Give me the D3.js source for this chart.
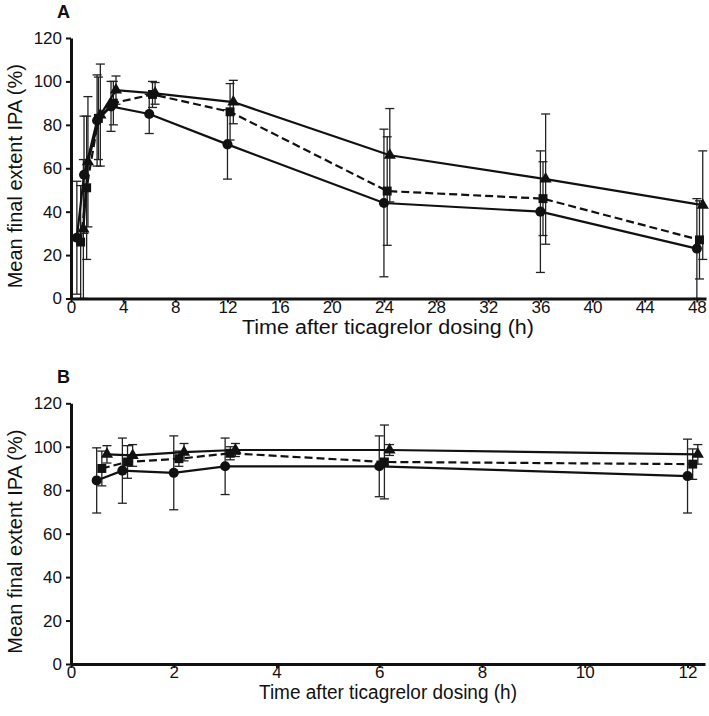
<!DOCTYPE html>
<html>
<head>
<meta charset="utf-8">
<script src="https://d3js.org/d3.v7.min.js"></script>
<style>
body { margin: 0; background: #fff; }
svg text { font-family: "Liberation Sans", Arial, sans-serif; fill: #111; }
.axis-title { font-size: 20px; }
.panel-label { font-size: 18px; font-weight: bold; }
</style>
</head>
<body>
<svg id="chart" width="709" height="716"></svg>
<script>
// Panel A: 0-48 h
var aCircleTime = [0.45, 1.0, 2.0, 3.07, 6.0, 12.0, 24.0, 36.0, 48.0];
var aCircleMean = [28, 57, 82, 88.5, 85, 71, 44, 40, 23];
var aCircleSd   = [26, 27, 21, 11.5, 9, 16, 34, 28, 23];

var aSquareTime = [0.74, 1.2, 2.1, 3.25, 6.25, 12.2, 24.25, 36.2, 48.2];
var aSquareMean = [26, 51, 83, 90, 94, 86, 49.5, 46, 27];
var aSquareSd   = [26, 33, 19, 10, 6, 13, 25, 17, 18];

var aTriTime = [0.95, 1.3, 2.25, 3.45, 6.45, 12.45, 24.45, 36.4, 48.45];
var aTriMean = [32, 63, 84.5, 96, 94.5, 90.5, 66, 55, 43];
var aTriSd   = [32, 30, 23.5, 6.5, 5, 10, 21.5, 30, 25];

// Panel B: 0-12 h
var bCircleTime = [0.5, 1.0, 2.0, 3.0, 6.0, 12.0];
var bCircleMean = [84.5, 89, 88, 91, 91, 86.5];
var bCircleSd   = [15, 15, 17, 13, 14, 17];

var bSquareTime = [0.6, 1.1, 2.1, 3.1, 6.1, 12.1];
var bSquareMean = [90, 93, 94.5, 97, 93, 92];
var bSquareSd   = [8, 7.5, 3.5, 3, 17, 7];

var bTriTime = [0.7, 1.2, 2.2, 3.2, 6.2, 12.2];
var bTriMean = [96.5, 96, 97.5, 98.5, 98.5, 96.5];
var bTriSd   = [4, 5, 4, 3, 2.5, 4.5];

var xTicksA = [0, 4, 8, 12, 16, 20, 24, 28, 32, 36, 40, 44, 48];
var xTicksB = [0, 2, 4, 6, 8, 10, 12];
var yTicks = [0, 20, 40, 60, 80, 100, 120];

var yLabel = "Mean final extent IPA (%)";
var xLabel = "Time after ticagrelor dosing (h)";

function zip(t, m, s) {
  return t.map(function(d, i) { return {t: d, m: m[i], sd: s[i]}; });
}

var svg = d3.select("#chart");
svg.append("rect").attr("width", 709).attr("height", 716).attr("fill", "#fff");

function drawPanel(p) {
  var x = d3.scaleLinear().domain([0, p.xMax]).range([71, p.right]);
  var y = d3.scaleLinear().domain([0, 120]).range([p.bottom, p.top]);
  var g = svg.append("g");

  var series = [
    {data: zip(p.c[0], p.c[1], p.c[2]), shape: "circle", dash: null},
    {data: zip(p.s[0], p.s[1], p.s[2]), shape: "square", dash: "8,4"},
    {data: zip(p.tr[0], p.tr[1], p.tr[2]), shape: "triangle", dash: null}
  ];

  var line = d3.line().x(function(d) { return x(d.t); }).y(function(d) { return y(d.m); });

  // error bars first
  series.forEach(function(s) {
    var eb = g.append("g").selectAll("g").data(s.data).enter().append("g");
    eb.append("line")
      .attr("x1", function(d) { return x(d.t); }).attr("x2", function(d) { return x(d.t); })
      .attr("y1", function(d) { return y(Math.max(0, d.m - d.sd)); })
      .attr("y2", function(d) { return y(d.m + d.sd); })
      .attr("stroke", "#222").attr("stroke-width", 1.3);
    [function(d) { return Math.max(0, d.m - d.sd); }, function(d) { return d.m + d.sd; }].forEach(function(f) {
      eb.append("line")
        .attr("x1", function(d) { return x(d.t) - 4.5; }).attr("x2", function(d) { return x(d.t) + 4.5; })
        .attr("y1", function(d) { return y(f(d)); }).attr("y2", function(d) { return y(f(d)); })
        .attr("stroke", "#222").attr("stroke-width", 1.3);
    });
  });

  series.forEach(function(s) {
    g.append("path").datum(s.data)
      .attr("d", line)
      .attr("fill", "none")
      .attr("stroke", "#111")
      .attr("stroke-width", 2.2)
      .attr("stroke-dasharray", s.dash);
  });

  series.forEach(function(s) {
    var sym = s.shape == "circle" ? d3.symbolCircle : s.shape == "square" ? d3.symbolSquare : d3.symbolTriangle;
    var size = s.shape == "circle" ? 80 : s.shape == "square" ? 80 : 64;
    g.append("g").selectAll("path").data(s.data).enter().append("path")
      .attr("d", d3.symbol().type(sym).size(size))
      .attr("transform", function(d) { return "translate(" + x(d.t) + "," + y(d.m) + ")"; })
      .attr("fill", "#111");
  });

  // axes
  var ax = g.append("g").attr("transform", "translate(0," + p.bottom + ")")
    .call(d3.axisBottom(x).tickValues(p.xTicks).tickSize(4).tickSizeOuter(0).tickPadding(-2));
  var ay = g.append("g").attr("transform", "translate(71,0)")
    .call(d3.axisLeft(y).tickValues(yTicks).tickSize(5).tickSizeOuter(0).tickPadding(4));
  [ax, ay].forEach(function(a) {
    a.select(".domain").attr("stroke", "#111").attr("stroke-width", 3);
    a.selectAll(".tick line").attr("stroke", "#111").attr("stroke-width", 2);
    a.selectAll(".tick text").attr("fill", "#111").style("font-size", "17px")
      .style("font-family", '"Liberation Sans", Arial, sans-serif');
  });

  g.append("text").attr("class", "axis-title")
    .attr("x", 388).attr("y", p.bottom + 35)
    .attr("text-anchor", "middle")
    .attr("textLength", p.xTitleLen).attr("lengthAdjust", "spacingAndGlyphs")
    .text(xLabel);
  g.append("text").attr("class", "axis-title")
    .attr("transform", "translate(22," + ((p.top + p.bottom) / 2 + 8) + ") rotate(-90)")
    .attr("text-anchor", "middle").text(yLabel);
  g.append("text").attr("class", "panel-label")
    .attr("x", 57).attr("y", p.top - 20).text(p.name);
}

drawPanel({name: "A", xMax: 48.7, right: 706, top: 38, bottom: 298.5, xTicks: xTicksA, xTitleLen: 292,
  c: [aCircleTime, aCircleMean, aCircleSd], s: [aSquareTime, aSquareMean, aSquareSd], tr: [aTriTime, aTriMean, aTriSd]});
drawPanel({name: "B", xMax: 12.34, right: 705, top: 403.3, bottom: 664, xTicks: xTicksB, xTitleLen: 258,
  c: [bCircleTime, bCircleMean, bCircleSd], s: [bSquareTime, bSquareMean, bSquareSd], tr: [bTriTime, bTriMean, bTriSd]});
</script>
</body>
</html>
